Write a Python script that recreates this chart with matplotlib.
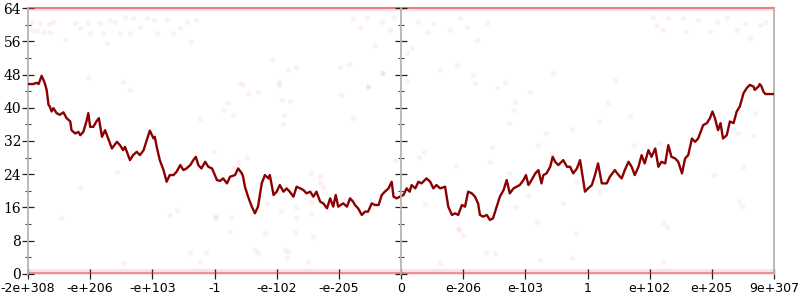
import numpy as np
import matplotlib
matplotlib.use("Agg")
import matplotlib.pyplot as plt

# x positions are in "tick slots": 0 = -2e+308 ... 6 = 0 ... 12 = 9e+307
tick_labels = ["-2e+308", "-e+206", "-e+103", "-1", "-e-102", "-e-205", "0",
               "e-206", "e-103", "1", "e+102", "e+205", "9e+307"]

line_x = [
    0.00, 0.08, 0.14, 0.17, 0.22, 0.27, 0.30, 0.33, 0.35, 0.38, 0.41, 0.46, 0.51, 0.57,
    0.62, 0.68, 0.70, 0.76, 0.81, 0.84, 0.89, 0.94, 0.97, 1.00, 1.05, 1.10, 1.14, 1.19,
    1.24, 1.29, 1.35, 1.43, 1.48, 1.53, 1.56, 1.59, 1.64, 1.69, 1.75, 1.80, 1.86, 1.91,
    1.96, 2.02, 2.04, 2.07, 2.12, 2.18, 2.23, 2.28, 2.34, 2.39, 2.45, 2.50, 2.55, 2.61,
    2.66, 2.70, 2.74, 2.79, 2.85, 2.90, 2.96, 3.04, 3.09,
    3.14, 3.20, 3.25, 3.33, 3.38, 3.44, 3.46, 3.49, 3.54, 3.60, 3.65, 3.70, 3.76, 3.81,
    3.87, 3.89, 3.95, 4.00, 4.05, 4.11, 4.16, 4.21, 4.27, 4.32, 4.38, 4.43, 4.48, 4.54,
    4.59, 4.64, 4.70, 4.75, 4.81, 4.86, 4.91, 4.95, 4.99, 5.07, 5.13, 5.18, 5.23, 5.26,
    5.31, 5.37, 5.42, 5.47, 5.53, 5.58, 5.64, 5.69, 5.74, 5.80, 5.85, 5.88, 5.93, 5.98,
    6.04, 6.09, 6.14,
    6.17, 6.23, 6.28, 6.33, 6.41, 6.47, 6.52, 6.57, 6.63, 6.71, 6.76, 6.82, 6.87, 6.92,
    6.98, 7.03, 7.08, 7.14, 7.19, 7.24, 7.27, 7.32, 7.38, 7.43, 7.48, 7.54, 7.59, 7.65,
    7.70, 7.75, 7.81, 7.86, 7.91, 7.97, 8.01, 8.05, 8.10, 8.16, 8.21, 8.26, 8.29, 8.34,
    8.40, 8.44, 8.48, 8.53, 8.61, 8.67, 8.72, 8.77, 8.83, 8.88, 8.91, 8.96, 9.01, 9.07,
    9.12, 9.17,
    9.23, 9.31, 9.36, 9.44, 9.50, 9.55, 9.60, 9.66, 9.71, 9.76, 9.82, 9.87, 9.92, 9.98,
    10.03, 10.09, 10.14, 10.19, 10.25, 10.30, 10.35, 10.41, 10.46, 10.52, 10.57, 10.62,
    10.68, 10.73, 10.78, 10.86, 10.92, 10.97, 11.01, 11.05, 11.10, 11.14, 11.18, 11.24,
    11.29, 11.35, 11.40, 11.45, 11.51, 11.56, 11.61, 11.67, 11.69, 11.75, 11.77, 11.80,
    11.83, 11.86, 12.00,
]
line_y = [
    45.7, 45.7, 46.0, 45.7, 47.7, 45.9, 44.3, 40.7, 40.3, 39.1, 39.9, 38.7, 38.3, 38.9,
    37.5, 36.7, 34.6, 33.8, 34.2, 33.4, 34.2, 36.7, 38.7, 35.4, 35.4, 36.7, 37.5, 33.0,
    34.6, 32.6, 30.2, 31.8, 31.0, 29.8, 30.6, 29.4, 27.4, 28.6, 29.4, 28.6, 29.8, 32.2,
    34.5, 32.6, 33.0, 30.6, 27.4, 25.0, 22.2, 23.8, 23.8, 24.6, 26.2, 25.0, 25.4, 26.2,
    27.4, 28.2, 26.2, 25.4, 27.0, 25.8, 25.4, 22.6, 22.4,
    23.0, 21.8, 23.4, 23.8, 25.4, 24.2, 23.4, 21.0, 18.6, 16.2, 14.6, 16.2, 21.8, 23.8,
    23.0, 23.8, 19.0, 19.8, 21.4, 19.8, 20.6, 19.8, 18.6, 21.0, 20.6, 20.2, 19.4, 19.8,
    18.6, 19.8, 17.4, 17.0, 15.8, 18.2, 16.2, 19.0, 16.2, 17.0, 16.2, 18.2, 17.4, 16.6,
    15.8, 14.2, 15.0, 15.0, 17.0, 16.6, 16.6, 19.0, 19.8, 20.6, 22.2, 18.6, 18.2, 18.6,
    19.0, 20.6, 19.8,
    21.4, 20.6, 22.2, 21.8, 23.0, 22.2, 20.6, 21.4, 20.6, 21.0, 16.2, 14.2, 14.6, 14.2,
    16.6, 16.2, 19.8, 19.4, 18.6, 17.0, 14.2, 13.8, 14.2, 13.0, 13.4, 16.2, 18.6, 20.2,
    22.6, 19.4, 20.6, 21.0, 21.4, 22.6, 23.8, 21.4, 22.6, 24.2, 25.0, 21.8, 23.8, 24.2,
    25.8, 28.2, 27.0, 26.2, 27.4, 25.8, 25.8, 24.2, 25.4, 27.4, 24.6, 19.8, 20.6, 21.4,
    23.8, 26.6,
    21.8, 21.8, 23.4, 25.0, 23.8, 23.0, 25.0, 27.0, 25.8, 23.8, 25.8, 28.6, 26.6, 29.8,
    28.2, 30.2, 25.8, 27.0, 26.6, 31.0, 28.2, 27.8, 27.0, 24.2, 27.8, 28.6,
    32.6, 31.8, 32.6, 35.8, 36.3, 37.5, 39.1, 37.5, 34.6, 36.3, 32.6, 33.4,
    36.7, 36.3, 39.1, 40.3, 43.5, 44.7, 45.5, 45.1, 44.3, 45.1, 45.7, 45.1,
    43.9, 43.3, 43.3,
]

# faint scattered samples
pts_x = [
    0.06, 0.19, 0.33, 0.41, 0.06, 0.14, 0.25, 0.35, 0.60, 0.76, 0.84, 0.97, 1.00, 1.16,
    1.21, 1.27, 1.32, 1.40, 1.48, 1.56, 1.64, 1.69, 1.80, 1.91, 2.02, 2.07, 2.23, 2.34,
    2.44, 2.55, 2.63, 2.71, 0.97, 1.53, 1.64,
    5.23, 5.34, 5.45, 5.58, 5.69, 5.82, 5.88, 6.09, 6.17, 6.28, 6.44, 6.52, 6.63, 6.79,
    6.90, 6.95, 7.06, 7.16, 7.22, 7.38, 7.54, 5.47, 5.69,
    10.06, 10.11, 10.22, 10.30, 10.54, 10.59, 10.78, 10.97, 11.08, 11.24, 11.40, 11.53,
    11.61, 11.77, 11.85, 11.69,
    2.76, 2.99, 1.43, 0.83, 0.53, 2.28, 2.40, 3.01,
    3.41, 3.46, 3.54, 3.70, 3.20, 3.14, 3.30, 4.03, 4.03, 4.08, 4.21, 4.11, 4.10, 4.19,
    4.31, 3.92, 5.02, 5.17, 5.03, 5.47, 5.23, 5.71, 6.09, 5.90, 3.52, 3.37, 3.30, 4.56,
    4.70, 4.70, 4.74, 3.84, 4.56, 4.31, 4.07, 4.56, 4.31, 3.02, 3.26,
    7.19, 7.67, 8.07, 8.45, 7.83, 7.82, 7.73, 8.34, 8.75, 8.21, 7.46, 8.42, 7.43, 7.73,
    6.37, 6.29, 6.88, 8.04, 7.83, 8.61, 8.18, 6.92, 6.39, 8.83,
    9.44, 9.33, 9.19, 9.68, 9.75, 10.15, 9.20, 11.04, 11.50, 11.42, 11.67, 11.44, 11.48,
    10.22, 10.28,
    1.53, 2.61, 2.77, 2.87, 3.25, 3.81, 4.29, 4.59, 3.65, 3.70, 4.13, 4.19, 4.16, 4.51,
    6.63, 6.94, 7.00, 7.37, 7.51, 8.24, 8.81, 8.75, 10.22,
]
pts_y = [
    60.7, 60.5, 60.1, 60.7, 58.7, 58.5, 58.3, 58.3, 56.5, 60.3, 59.1, 60.3, 57.9, 60.3,
    57.9, 55.5, 61.1, 60.7, 57.9, 61.9, 57.9, 61.5, 59.5, 61.5, 61.1, 57.9, 61.1, 57.9,
    59.1, 60.7, 55.9, 61.1, 47.5, 46.3, 44.3,
    61.5, 59.5, 61.5, 55.1, 60.7, 58.7, 61.9, 53.1, 54.3, 60.7, 58.3, 60.3, 49.1, 58.7,
    50.3, 61.5, 59.5, 47.9, 56.3, 60.3, 44.7, 45.1, 48.3,
    61.9, 59.9, 58.7, 61.5, 61.5, 58.3, 61.1, 58.3, 60.7, 61.5, 58.7, 60.3,
    56.7, 59.9, 60.7, 38.7,
    37.2, 29.4, 24.6, 20.9, 13.4, 14.2, 15.4, 13.8,
    45.9, 45.5, 43.5, 43.9, 41.2, 39.5, 38.3, 46.3, 45.5, 41.9, 41.7, 38.3, 36.1, 49.1,
    49.9, 51.5, 49.7, 50.5, 43.1, 45.2, 37.5, 48.3, 46.5, 27.4, 28.2, 26.9, 25.7, 24.2,
    23.6, 22.2, 21.0, 17.2, 17.4, 16.0, 15.2, 14.4, 13.4, 13.8, 13.6,
    45.9, 46.3, 43.9, 48.3, 41.5, 39.5, 36.3, 33.9, 34.8, 31.0, 30.5, 29.0, 27.0, 24.2,
    29.4, 28.2, 26.0, 18.8, 16.2, 17.0, 12.6, 11.0, 16.8, 22.2,
    46.7, 41.2, 36.9, 38.0, 31.0, 31.4, 19.8, 23.8, 25.7, 34.0, 33.4, 17.6, 16.4,
    12.2, 11.4,
    2.6, 5.0, 3.0, 5.0, 10.2, 9.9, 10.2, 9.0, 5.8, 5.0, 5.8, 5.4, 3.8, 3.0,
    2.6, 10.6, 9.4, 5.0, 5.1, 3.4, 9.8, 3.8, 3.0,
]

fig = plt.figure(figsize=(8, 3), dpi=100)
ax = fig.add_axes([0.035, 0.0867, 0.9325, 0.8866])

# dense bands of samples at the extremes
ax.axhspan(-0.3, 1.1, color="#e03030", alpha=0.13, lw=0, clip_on=False)
ax.axhline(0.15, color="#e03030", alpha=0.45, lw=1.5, clip_on=False)
ax.axhspan(63.3, 64.3, color="#e03030", alpha=0.15, lw=0, clip_on=False)
ax.axhline(63.9, color="#e03030", alpha=0.55, lw=1.5, clip_on=False)

ax.scatter(pts_x, pts_y, s=14, color="#e03030", alpha=0.07, lw=0, zorder=2)
ax.plot(line_x, line_y, color="#8b0000", lw=1.7, zorder=3)

ax.set_xlim(0, 12)
ax.set_ylim(0, 64)

spine_col = "#b4b4b4"
for side in ["top", "bottom"]:
    ax.spines[side].set_visible(False)
for side in ["left", "right"]:
    ax.spines[side].set_color(spine_col)
    ax.spines[side].set_linewidth(1.3)

ax.set_xticks(range(13))
ax.set_xticklabels(tick_labels, fontsize=9, family="DejaVu Sans")
ax.set_yticks(range(0, 65, 8))
ax.set_yticks(range(4, 64, 8), minor=True)
for lab in ax.get_yticklabels():
    lab.set_family("DejaVu Serif")
    lab.set_fontsize(10)

ax.tick_params(axis="x", direction="inout", length=7, width=0.9, color="#222222", pad=2)
ax.tick_params(axis="y", which="major", direction="inout", length=9, width=0.9,
               color="#222222", left=True, right=True, pad=0.5)
ax.tick_params(axis="y", which="minor", direction="inout", length=5, width=0.8,
               color="#444444", left=True, right=True)

# middle axis at x = 0 (slot 6)
mid = ax.twinx()
mid.set_ylim(0, 64)
for side in ["top", "bottom", "left"]:
    mid.spines[side].set_visible(False)
mid.spines["right"].set_position(("data", 6))
mid.spines["right"].set_color(spine_col)
mid.spines["right"].set_linewidth(1.3)
mid.set_yticks(range(0, 65, 8))
mid.set_yticks(range(4, 64, 8), minor=True)
mid.tick_params(axis="y", which="major", direction="inout", length=9, width=0.9,
                color="#222222", labelright=False)
mid.tick_params(axis="y", which="minor", direction="inout", length=5, width=0.8,
                color="#444444")

fig.savefig("out.png", dpi=100)
